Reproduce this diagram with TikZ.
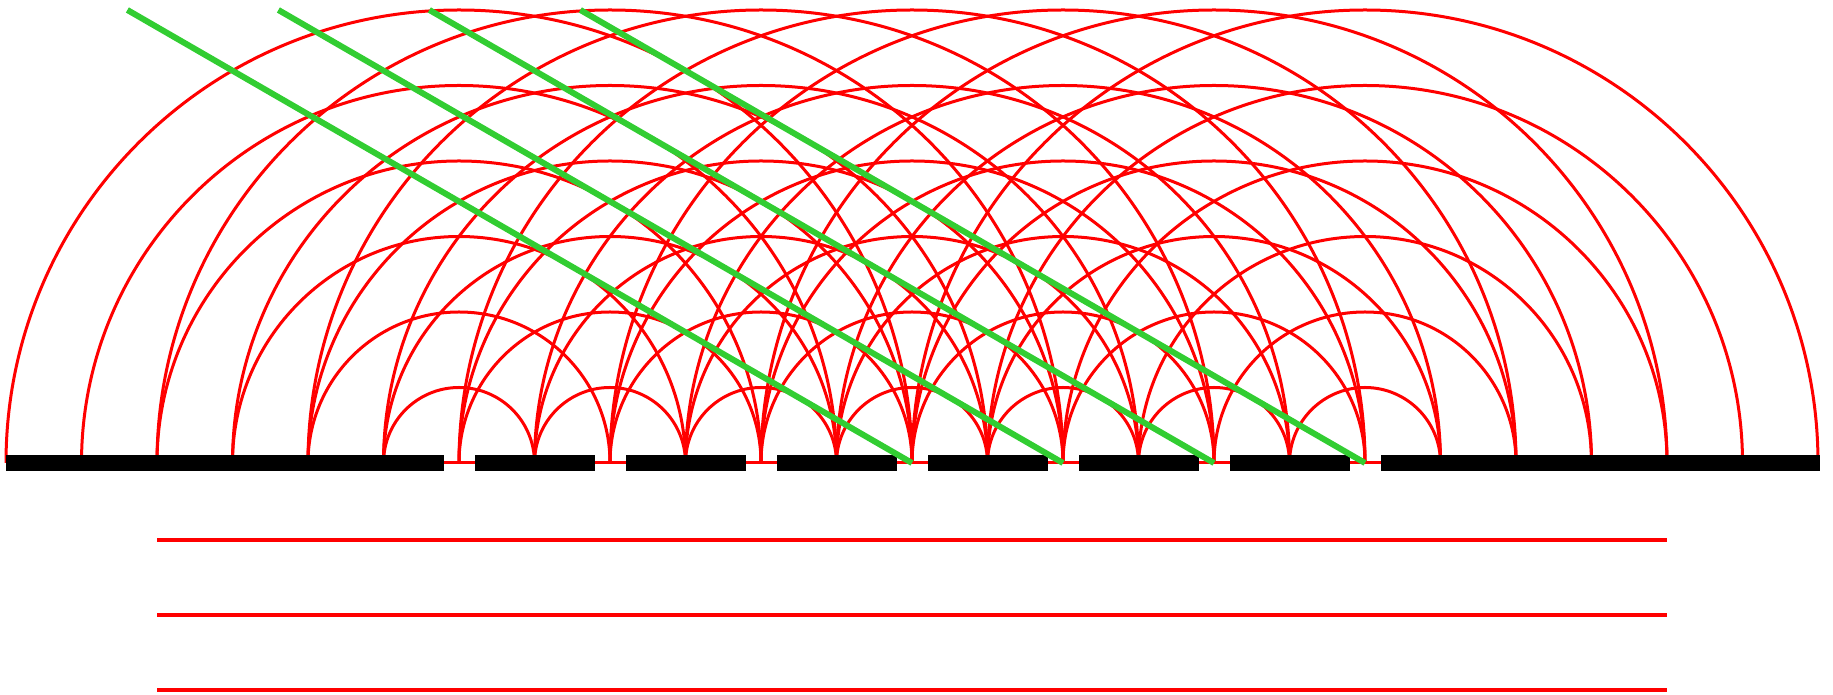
\documentclass[tikz,border=0pt]{standalone}
\definecolor{wavegreen}{RGB}{50,205,50}
\begin{document}
\begin{tikzpicture}[x=1pt,y=1pt,
  wave/.style={red,line width=3pt},
  screenline/.style={red,line width=4pt},
  barrier/.style={fill=black},
  front/.style={wavegreen,line width=6pt}]
\useasboundingbox (0,0) rectangle (1833,695);
% slits
\foreach \k in {0,...,6} {
  \coordinate (s\k) at ({459+151*\k},232);
}
% circular wavelets
\foreach \k in {0,...,6} {
  \foreach \n in {1,...,6} {
    \draw[wave] ({459+151*\k-75.5*\n},232) arc[start angle=180,end angle=0,radius={75.5*\n}];
  }
}
% baseline through slits
\draw[wave] (6,232) -- (1820,232);
% barrier
\fill[barrier] (6,224) rectangle (443.5,240);
\foreach \k in {0,...,5} {
  \fill[barrier] ({459+151*\k+15.5},224) rectangle ({459+151*(\k+1)-15.5},240);
}
\fill[barrier] (1380.5,224) rectangle (1820,240);
% screen lines
\coordinate (l1a) at (157,155); \coordinate (l1b) at (1667,155);
\coordinate (l2a) at (157,80);  \coordinate (l2b) at (1667,80);
\coordinate (l3a) at (157,5);   \coordinate (l3b) at (1667,5);
\draw[screenline] (l1a) -- (l1b);
\draw[screenline] (l2a) -- (l2b);
\draw[screenline] (l3a) -- (l3b);
% wavefronts
\foreach \k in {3,...,6} {
  \draw[front] (s\k) -- ++(150:906);
}
\end{tikzpicture}
\end{document}
